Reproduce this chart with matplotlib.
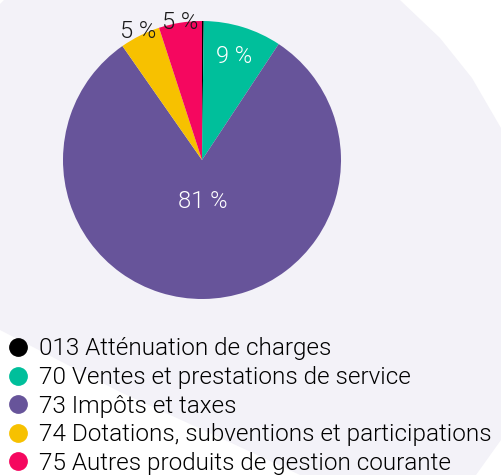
import matplotlib.pyplot as plt
from matplotlib.patches import Polygon
from matplotlib.lines import Line2D
import numpy as np

# data
labels = ["013 Atténuation de charges",
          "70 Ventes et prestations de service",
          "73 Impôts et taxes",
          "74 Dotations, subventions et participations",
          "75 Autres produits de gestion courante"]
values = [0.2, 9.1, 81.0, 4.7, 5.0]
pct_text = ["", "9 %", "81 %", "5 %", "5 %"]
colors = ["#000000", "#00bf9b", "#67549a", "#f7c100", "#f5075f"]

W, H = 501, 475
fig = plt.figure(figsize=(W / 100, H / 100), dpi=100)
fig.patch.set_facecolor("white")

# lavender background blob (pixel coords, y down)
bg = [(4, 0), (400, 0), (440, 38), (472, 78), (501, 128), (501, 440),
      (476, 475), (300, 475), (240, 447), (120, 392), (0, 330), (0, 4)]
fig.add_artist(Polygon([(x / W, 1 - y / H) for x, y in bg], closed=True,
                       transform=fig.transFigure, facecolor="#f3f2f8",
                       edgecolor="none", zorder=-5))

font = ["Roboto", "DejaVu Sans"]

cx, cy, r = 202, 160, 139
ax = fig.add_axes([(cx - r) / W, 1 - (cy + r) / H, 2 * r / W, 2 * r / H])
ax.set_zorder(2)
ax.set_facecolor("none")
wedges, _ = ax.pie(values, colors=colors, startangle=90, counterclock=False,
                   radius=1, wedgeprops=dict(linewidth=0))
ax.set_xlim(-1, 1)
ax.set_ylim(-1, 1)
ax.axis("off")

dist = [0, 0.78, 0.3, 1.03, 1.0]
tcol = ["white", "white", "white", "#1a1a1a", "#1a1a1a"]
for w, t, d, c in zip(wedges, pct_text, dist, tcol):
    if not t:
        continue
    a = np.deg2rad((w.theta1 + w.theta2) / 2)
    ax.text(d * np.cos(a), d * np.sin(a), t, ha="center", va="center",
            color=c, fontsize=17, family=font, fontweight=300)

handles = [Line2D([], [], marker="o", linestyle="none", markersize=12.5,
                  markerfacecolor=c, markeredgecolor=c) for c in colors]
leg = fig.legend(handles, labels, loc="upper left", bbox_to_anchor=(0.006, 1 - 335 / H),
                 frameon=False, handlelength=1.0, handletextpad=0.4, labelspacing=0.23,
                 borderaxespad=0, borderpad=0.1,
                 prop=dict(family=font, size=17.5, weight=300))
leg.set_zorder(3)

fig.savefig("out.png", dpi=100)
